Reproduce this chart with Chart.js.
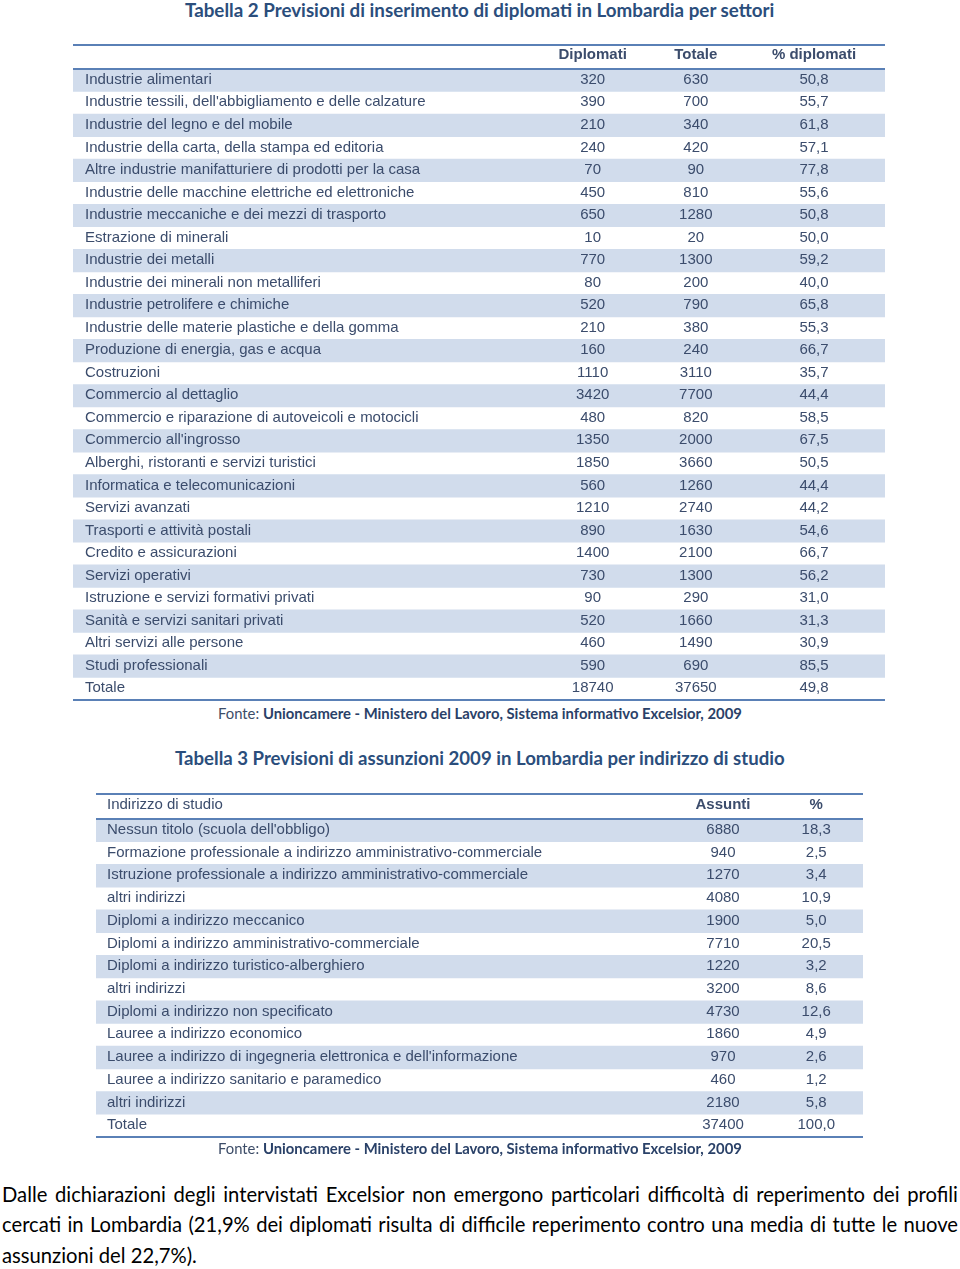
<!DOCTYPE html>
<html lang="it">
<head>
<meta charset="utf-8">
<title>Previsioni Excelsior Lombardia</title>
<script src="https://cdn.jsdelivr.net/npm/chart.js@4.4.1/dist/chart.umd.min.js"></script>
<style>
  html, body { margin: 0; padding: 0; background: #fff; }
  #page { position: relative; width: 960px; height: 1269px; overflow: hidden; }
  .title { position: absolute; font-family: Lato, sans-serif; font-weight: 700; color: #2b4e7c; white-space: nowrap; }
  .fonte { position: absolute; font-family: Lato, sans-serif; color: #3d4d68; white-space: nowrap; }
  .fonte b { font-weight: 700; color: #2a4168; }
  .box { position: absolute; }
  .box canvas { display: block; }
  .line { position: absolute; left: 2px; width: 956px; display: flex; justify-content: space-between;
          font-family: Lato, sans-serif; color: #000; white-space: nowrap; }
  .line.last { justify-content: flex-start; }
</style>
</head>
<body>
<div id="page">
  <div class="title" id="title2">Tabella 2 Previsioni di inserimento di diplomati in Lombardia per settori</div>
  <div class="box" style="left:73px; top:43px;"><canvas id="table2" width="812" height="660"></canvas></div>
  <div class="fonte" id="fonte2">Fonte: <b>Unioncamere - Ministero del Lavoro, Sistema informativo Excelsior, 2009</b></div>

  <div class="title" id="title3">Tabella 3 Previsioni di assunzioni 2009 in Lombardia per indirizzo di studio</div>
  <div class="box" style="left:96px; top:792px;"><canvas id="table3" width="767" height="348"></canvas></div>
  <div class="fonte" id="fonte3">Fonte: <b>Unioncamere - Ministero del Lavoro, Sistema informativo Excelsior, 2009</b></div>

  <div class="line" id="p1"></div>
  <div class="line" id="p2"></div>
  <div class="line last" id="p3"></div>
</div>

<script>
// Tabella 2 data
const settori = [
    'Industrie alimentari',
    "Industrie tessili, dell'abbigliamento e delle calzature",
    'Industrie del legno e del mobile',
    'Industrie della carta, della stampa ed editoria',
    'Altre industrie manifatturiere di prodotti per la casa',
    'Industrie delle macchine elettriche ed elettroniche',
    'Industrie meccaniche e dei mezzi di trasporto',
    'Estrazione di minerali',
    'Industrie dei metalli',
    'Industrie dei minerali non metalliferi',
    'Industrie petrolifere e chimiche',
    'Industrie delle materie plastiche e della gomma',
    'Produzione di energia, gas e acqua',
    'Costruzioni',
    'Commercio al dettaglio',
    'Commercio e riparazione di autoveicoli e motocicli',
    "Commercio all'ingrosso",
    'Alberghi, ristoranti e servizi turistici',
    'Informatica e telecomunicazioni',
    'Servizi avanzati',
    'Trasporti e attività postali',
    'Credito e assicurazioni',
    'Servizi operativi',
    'Istruzione e servizi formativi privati',
    'Sanità e servizi sanitari privati',
    'Altri servizi alle persone',
    'Studi professionali',
    'Totale'
];
const diplomati = [320, 390, 210, 240, 70, 450, 650, 10, 770, 80, 520, 210, 160, 1110,
    3420, 480, 1350, 1850, 560, 1210, 890, 1400, 730, 90, 520, 460, 590, 18740];
const totale = [630, 700, 340, 420, 90, 810, 1280, 20, 1300, 200, 790, 380, 240, 3110,
    7700, 820, 2000, 3660, 1260, 2740, 1630, 2100, 1300, 290, 1660, 1490, 690, 37650];
const pctDiplomati = [50.8, 55.7, 61.8, 57.1, 77.8, 55.6, 50.8, 50.0, 59.2, 40.0, 65.8, 55.3, 66.7, 35.7,
    44.4, 58.5, 67.5, 50.5, 44.4, 44.2, 54.6, 66.7, 56.2, 31.0, 31.3, 30.9, 85.5, 49.8];
const headers2 = ['', 'Diplomati', 'Totale', '% diplomati'];

// Tabella 3 data
const indirizzi = [
    "Nessun titolo (scuola dell'obbligo)",
    'Formazione professionale a indirizzo amministrativo-commerciale',
    'Istruzione professionale a indirizzo amministrativo-commerciale',
    'altri indirizzi',
    'Diplomi a indirizzo meccanico',
    'Diplomi a indirizzo amministrativo-commerciale',
    'Diplomi a indirizzo turistico-alberghiero',
    'altri indirizzi',
    'Diplomi a indirizzo non specificato',
    'Lauree a indirizzo economico',
    "Lauree a indirizzo di ingegneria elettronica e dell'informazione",
    'Lauree a indirizzo sanitario e paramedico',
    'altri indirizzi',
    'Totale'
];
const assunti = [6880, 940, 1270, 4080, 1900, 7710, 1220, 3200, 4730, 1860, 970, 460, 2180, 37400];
const pctAssunti = [18.3, 2.5, 3.4, 10.9, 5.0, 20.5, 3.2, 8.6, 12.6, 4.9, 2.6, 1.2, 5.8, 100.0];
const headers3 = ['Indirizzo di studio', 'Assunti', '%'];

// Styles
const STRIPE = '#d1dcec';
const RULE = '#5a80b6';
const TEXT = '#3b4c6c';
const FONT = '"Liberation Sans", Arial, sans-serif';

const fmtInt = v => String(v);
const fmtPct = v => v.toFixed(1).replace('.', ',');

// Draws rules, header and cell texts using the chart's own scales
function tablePlugin(cfg) {
    return {
        id: 'tableText',
        afterDatasetsDraw(chart) {
            const { ctx, chartArea, scales: { x, y } } = chart;
            ctx.save();

            ctx.strokeStyle = RULE;
            ctx.lineWidth = 2;
            [2, chartArea.top, chartArea.bottom].forEach(ry => {
                ctx.beginPath();
                ctx.moveTo(chartArea.left, ry);
                ctx.lineTo(chartArea.right, ry);
                ctx.stroke();
            });

            ctx.fillStyle = TEXT;
            ctx.textBaseline = 'middle';
            const headerY = (2 + chartArea.top) / 2 + cfg.headerShift;
            cfg.columns.forEach(col => {
                if (!col.header) return;
                ctx.font = (col.headerBold ? 'bold ' : '') + '15px ' + FONT;
                if (col.align === 'left') {
                    ctx.textAlign = 'left';
                    ctx.fillText(col.header, chartArea.left + cfg.labelInset, headerY);
                } else {
                    ctx.textAlign = 'center';
                    ctx.fillText(col.header, x.getPixelForValue(col.pos), headerY);
                }
            });

            ctx.font = '15px ' + FONT;
            cfg.columns.forEach(col => {
                col.values.forEach((v, i) => {
                    const py = y.getPixelForValue(i) + cfg.rowShift;
                    if (col.align === 'left') {
                        ctx.textAlign = 'left';
                        ctx.fillText(col.fmt(v), chartArea.left + cfg.labelInset, py);
                    } else {
                        ctx.textAlign = 'center';
                        ctx.fillText(col.fmt(v), x.getPixelForValue(col.pos), py);
                    }
                });
            });
            ctx.restore();
        }
    };
}

function makeTable(canvasId, rows, cfg) {
    return new Chart(document.getElementById(canvasId), {
        type: 'bar',
        data: {
            labels: rows,
            datasets: [{
                data: rows.map(() => [0, 1]),
                backgroundColor: c => (c.dataIndex % 2 === 0 ? STRIPE : 'rgba(0,0,0,0)'),
                barPercentage: 1,
                categoryPercentage: 1,
                borderWidth: 0
            }]
        },
        options: {
            indexAxis: 'y',
            responsive: false,
            animation: false,
            events: [],
            layout: { padding: cfg.padding },
            plugins: {
                legend: { display: false },
                tooltip: { enabled: false }
            },
            scales: {
                x: { type: 'linear', min: 0, max: 1, display: false },
                y: { type: 'category', display: false, offset: true }
            }
        },
        plugins: [tablePlugin(cfg)]
    });
}

makeTable('table2', settori, {
    padding: { top: 26, bottom: 3, left: 0, right: 0 },
    labelInset: 12,
    headerShift: -2,
    rowShift: -0.5,
    columns: [
        { header: headers2[0], align: 'left', values: settori, fmt: v => v },
        { header: headers2[1], headerBold: true, pos: 0.640, values: diplomati, fmt: fmtInt },
        { header: headers2[2], headerBold: true, pos: 0.767, values: totale, fmt: fmtInt },
        { header: headers2[3], headerBold: true, pos: 0.9126, values: pctDiplomati, fmt: fmtPct }
    ]
});

makeTable('table3', indirizzi, {
    padding: { top: 27, bottom: 3, left: 0, right: 0 },
    labelInset: 11,
    headerShift: -1.5,
    rowShift: -0.5,
    columns: [
        { header: headers3[0], align: 'left', values: indirizzi, fmt: v => v },
        { header: headers3[1], headerBold: true, pos: 0.8175, values: assunti, fmt: fmtInt },
        { header: headers3[2], headerBold: true, pos: 0.939, values: pctAssunti, fmt: fmtPct }
    ]
});

// HTML text layout: fit each block to the width it has in the reference
function fitWidth(el, targetW, size) {
    el.style.fontSize = size + 'px';
    const w = el.getBoundingClientRect().width;
    el.style.fontSize = (size * targetW / w).toFixed(2) + 'px';
}
function place(el, left, cy) {
    const h = el.getBoundingClientRect().height;
    el.style.left = left + 'px';
    el.style.top = (cy - h / 2) + 'px';
}

const t2 = document.getElementById('title2');
fitWidth(t2, 590, 17); place(t2, 185, 9);
const t3 = document.getElementById('title3');
fitWidth(t3, 610, 17); place(t3, 175, 758);
const f2 = document.getElementById('fonte2');
fitWidth(f2, 524, 14); place(f2, 218, 713);
const f3 = document.getElementById('fonte3');
fitWidth(f3, 524, 14); place(f3, 218, 1148);

const paraLines = [
    'Dalle dichiarazioni degli intervistati Excelsior non emergono particolari difficoltà di reperimento dei profili',
    'cercati in Lombardia (21,9% dei diplomati risulta di difficile reperimento contro una media di tutte le nuove',
    'assunzioni del 22,7%).'
];
const paraY = [1194, 1224, 1255];
const p3 = document.getElementById('p3');
p3.style.width = 'auto';
p3.textContent = paraLines[2];
fitWidth(p3, 195, 19);
const paraSize = p3.style.fontSize;
place(p3, 2, paraY[2]);
['p1', 'p2'].forEach((id, k) => {
    const el = document.getElementById(id);
    el.style.fontSize = paraSize;
    paraLines[k].split(' ').forEach(w => {
        const s = document.createElement('span');
        s.textContent = w;
        el.appendChild(s);
    });
    place(el, 2, paraY[k]);
});
</script>
</body>
</html>
